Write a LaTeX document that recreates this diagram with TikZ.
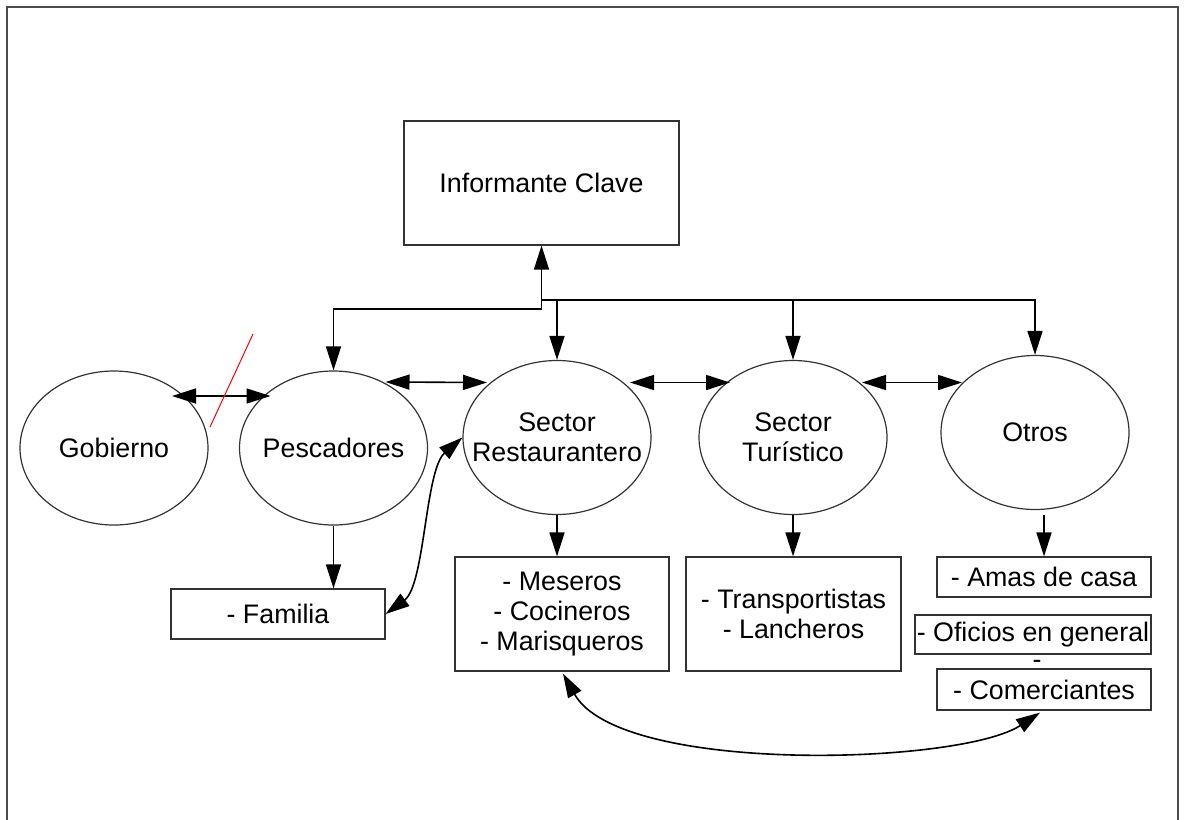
\documentclass[tikz,border=0pt]{standalone}
\usepackage{fontspec}
\setmainfont{Liberation Sans}
\usetikzlibrary{shapes.geometric, arrows.meta, calc}

\begin{document}
\begin{tikzpicture}[x=0.5pt, y=-0.5pt,
    every node/.style={font=\fontsize{13.4}{15}\selectfont},
    actor/.style={draw=black!80, line width=0.6pt, ellipse, minimum width=94pt, minimum height=77pt, inner xsep=-15pt, inner ysep=0pt, align=center},
    group/.style={draw=black!80, line width=0.6pt, rectangle, inner sep=0pt, align=center},
    tip/.style={line width=0.8pt, -{Triangle[length=12pt,width=7.5pt]}},
    both/.style={line width=0.8pt, {Triangle[length=12pt,width=7.5pt]}-{Triangle[length=12pt,width=7.5pt]}}]
    \useasboundingbox (0,0) rectangle (1186,819);
    \draw[line width=0.8pt, black!70] (7,830) -- (7,7) -- (1178,7) -- (1178,830);

    % informante y actores
    \node[group, minimum width=137.5pt, minimum height=62pt] (inf) at (541.5,183) {Informante Clave};
    \node[actor] (gob) at (114,448) {Gobierno};
    \node[actor] (pesc) at (333.5,448) {Pescadores};
    \node[actor] (rest) at (557,437.5) {Sector\\Restaurantero};
    \node[actor] (tur) at (793,437.5) {Sector\\Tur\'istico};
    \node[actor] (otros) at (1035,432.5) {Otros};

    % grupos
    \node[group, minimum width=107pt, minimum height=25pt] (fam) at (278,614) {- Familia};
    \node[group, minimum width=107pt, minimum height=57pt] (mes) at (562,614) {- Meseros\\- Cocineros\\- Marisqueros};
    \node[group, minimum width=107.5pt, minimum height=57pt] (trans) at (793.5,614) {- Transportistas\\- Lancheros};
    \node[group, minimum width=107pt, minimum height=20pt] (amas) at (1044,577) {- Amas de casa};
    \node[group, minimum width=118pt, minimum height=19.5pt] (ofi) at (1033,634.5) {- Oficios en general};
    \node[inner sep=0pt, anchor=north] (guion) at (1037,660) {-};
    \node[group, minimum width=107pt, minimum height=20.5pt] (com) at (1044,689.5) {- Comerciantes};

    % red desde el informante
    \coordinate (hub) at (541.5,300);
    \draw[tip] (hub) -- (inf.south);
    \draw[tip] (hub) -| (otros.north);
    \draw[tip] (hub) -- ++(0,9) -| (pesc.north);
    \draw[tip] (rest.north |- hub) -- (rest.north);
    \draw[tip] (tur.north |- hub) -- (tur.north);

    % relaciones entre actores
    \draw[both] ($(gob.center)+(58,-52)$) -- ($(pesc.center)+(-63,-52)$);
    \draw[red, line width=0.5pt] (253,334) -- (210,427);
    \draw[both] ($(pesc.center)+(52,-66)$) -- ($(rest.center)+(-70,-55)$);
    \draw[both] ($(rest.center)+(73,-55)$) -- ($(tur.center)+(-63,-55)$);
    \draw[both] ($(tur.center)+(69,-55)$) -- ($(otros.center)+(-73,-50)$);

    % actores a grupos
    \draw[tip] (pesc.south) -- (pesc.south |- fam.north);
    \draw[tip] (rest.south) -- (rest.south |- mes.north);
    \draw[tip] (tur.south) -- (tur.south |- trans.north);
    \draw[tip] ($(amas.north |- otros.south)+(0,5)$) -- (amas.north);

    % curvas
    \draw[both] (fam.east) .. controls (425,585) and (425,470) .. (rest.west);
    \draw[both] ($(mes.south)+(1,2)$) .. controls (620,775) and (960,765) .. ($(com.south)+(-4,2)$);
\end{tikzpicture}
\end{document}
